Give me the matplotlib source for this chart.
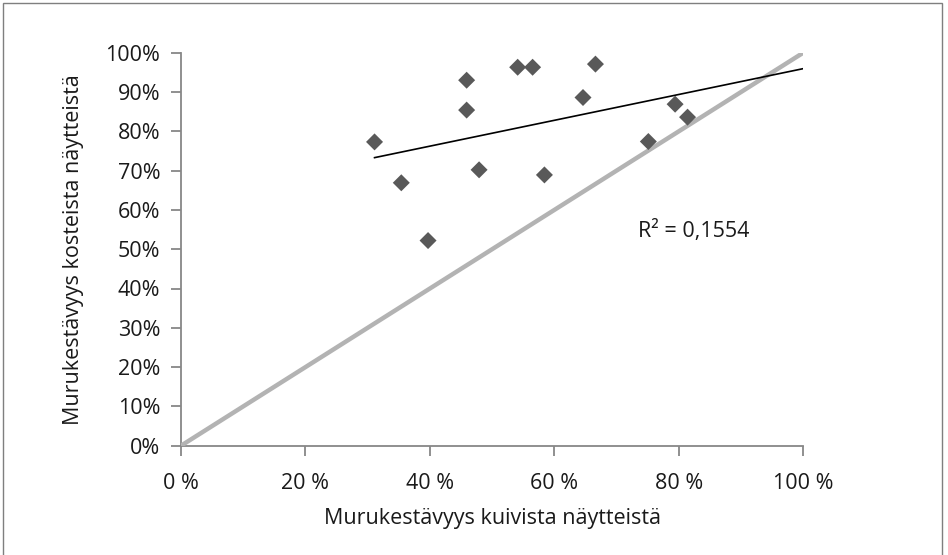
import numpy as np
import matplotlib
matplotlib.use("Agg")
import matplotlib.pyplot as plt
from matplotlib.ticker import FuncFormatter, MultipleLocator
from matplotlib.patches import Rectangle

# Data (fractions)
dry = [0.311, 0.354, 0.397, 0.459, 0.459, 0.479, 0.541, 0.565, 0.584, 0.646, 0.666, 0.751, 0.794, 0.814]
wet = [0.773, 0.669, 0.522, 0.930, 0.854, 0.702, 0.963, 0.963, 0.689, 0.886, 0.971, 0.774, 0.869, 0.836]
ref_line = [0.0, 1.0]
r2_label = "R² = 0,1554"
xlabel = "Murukestävyys kuivista näytteistä"
ylabel = "Murukestävyys kosteista näytteistä"

plt.rcParams['font.family'] = ['Open Sans', 'DejaVu Sans']

fig = plt.figure(figsize=(9.48, 5.55), dpi=100)
fig.patches.append(Rectangle((3/948, -0.01), (942-3)/948, 1 - 3/555 + 0.01,
                             transform=fig.transFigure, fill=False,
                             edgecolor='#7f7f7f', linewidth=1.0))
ax = fig.add_axes([181/948, 1-445.7/555, (803.3-181)/948, (445.7-52.7)/555])

ax.plot(ref_line, ref_line, color='#b3b3b3', linewidth=3.2, solid_capstyle='butt', zorder=1)

coef = np.polyfit(dry, wet, 1)
xs = np.array([min(dry), 1.0])
ax.plot(xs, np.polyval(coef, xs), color='black', linewidth=1.2, zorder=2)

ax.scatter(dry, wet, marker='D', s=75, color='#595959', edgecolors='none', zorder=3)

ax.text(0.735, (445.7-237)/393, r2_label, fontsize=15.5, va='baseline', ha='left', color='#1a1a1a')

ax.set_xlim(0, 1)
ax.set_ylim(0, 1)
ax.xaxis.set_major_locator(MultipleLocator(0.2))
ax.yaxis.set_major_locator(MultipleLocator(0.1))
ax.xaxis.set_major_formatter(FuncFormatter(lambda v, p: f"{int(round(v*100))} %"))
ax.yaxis.set_major_formatter(FuncFormatter(lambda v, p: f"{int(round(v*100))}%"))

for s in ['top', 'right']:
    ax.spines[s].set_visible(False)
for s in ['left', 'bottom']:
    ax.spines[s].set_color('#878787')
    ax.spines[s].set_linewidth(1.3)
    ax.spines[s].set_zorder(0.5)

ax.tick_params(axis='both', colors='#878787', labelcolor='#1a1a1a', labelsize=15.5,
               length=7, width=1.3, direction='out')
ax.tick_params(axis='x', pad=13)
ax.tick_params(axis='y', pad=8)

ax.set_xlabel(xlabel, fontsize=15.5, color='#1a1a1a')
ax.set_ylabel(ylabel, fontsize=15.5, color='#1a1a1a')
ax.xaxis.set_label_coords(0.5, -0.158)
ax.yaxis.set_label_coords(-0.156, 0.5)

fig.savefig("out.png", dpi=100)
